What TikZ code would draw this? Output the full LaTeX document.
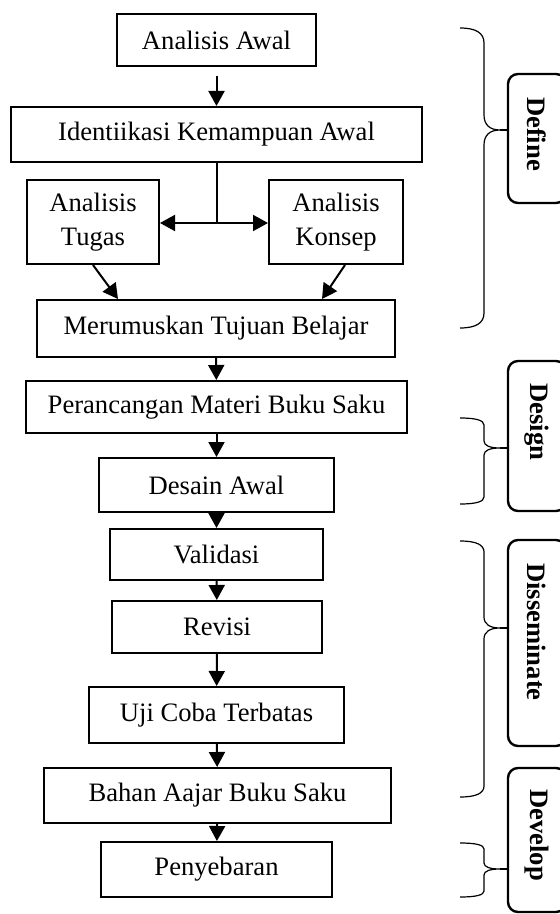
\documentclass[tikz,border=0pt]{standalone}
\usepackage{fontspec}
\setmainfont{Liberation Serif}
\usetikzlibrary{arrows.meta,calc}

\begin{document}
\begin{tikzpicture}[x=0.5pt,y=-0.5pt,
    stage/.style={draw,line width=1pt,inner sep=0pt,align=center,font=\fontsize{13.3}{17}\selectfont},
    flow/.style={line width=1pt,-{Triangle[width=8pt,length=7.5pt]}},
    phase/.style={draw,line width=1.2pt,rounded corners=5pt,minimum width=29pt},
    phasetext/.style={rotate=-90,font=\fontsize{13.3}{16}\selectfont\bfseries},
    brace/.style={line width=0.6pt}]
        \useasboundingbox (0,0) rectangle (560,914);
        \clip (0,0) rectangle (560,914);

        \node[stage,minimum width=99.5pt,minimum height=26pt] (awal) at (216.5,40) {Analisis Awal};
        \node[stage,minimum width=205.5pt,minimum height=27.5pt] (ident) at (216.5,134.5) {Identiikasi Kemampuan Awal};
        \node[stage,minimum width=66pt,minimum height=42pt] (tugas) at (93,222) {Analisis\\Tugas};
        \node[stage,minimum width=67pt,minimum height=42pt] (konsep) at (336,222) {Analisis\\Konsep};
        \node[stage,minimum width=179pt,minimum height=28.5pt] (rumus) at (216,328.5) {Merumuskan Tujuan Belajar};
        \node[stage,minimum width=190.5pt,minimum height=26pt] (rancang) at (216.5,407) {Perancangan Materi Buku Saku};
        \node[stage,minimum width=117.5pt,minimum height=27pt] (desain) at (216.5,485) {Desain Awal};
        \node[stage,minimum width=106.5pt,minimum height=25.5pt] (valid) at (216.5,554.5) {Validasi};
        \node[stage,minimum width=105pt,minimum height=26pt] (revisi) at (217,627) {Revisi};
        \node[stage,minimum width=127.5pt,minimum height=28pt] (uji) at (216.5,715) {Uji Coba Terbatas};
        \node[stage,minimum width=173.5pt,minimum height=27.5pt] (bahan) at (217.5,795.5) {Bahan Aajar Buku Saku};
        \node[stage,minimum width=115.5pt,minimum height=27.5pt] (sebar) at (216.5,869.5) {Penyebaran};

        \draw[flow,shorten <=4.5pt] (awal) -- (ident);
        \coordinate (split) at (216.5,223);
        \draw[line width=1pt] (ident.south) -- (split);
        \draw[flow] (split) -- (tugas.east |- split);
        \draw[flow] (split) -- (konsep.west |- split);
        \draw[flow] (tugas.south) -- (118,0 |- rumus.north);
        \draw[flow] ($(konsep.south)+(9,0)$) -- (322,0 |- rumus.north);
        \draw[flow] (rumus) -- (rancang);
        \draw[flow] (rancang) -- (desain);
        \draw[flow] (desain) -- (valid);
        \draw[flow] (valid) -- (revisi);
        \draw[flow] (revisi) -- (uji);
        \draw[flow] (uji) -- (bahan);
        \draw[flow] (bahan) -- (sebar);

        % phases
        \node[phase,minimum height=64.5pt] (define) at (537,138.5) {};
        \node[phase,minimum height=75pt] (design) at (537,436) {};
        \node[phase,minimum height=103pt] (dissem) at (537,643) {};
        \node[phase,minimum height=72pt] (develop) at (537,840) {};
        \node[phasetext] at (537,134) {Define};
        \node[phasetext] at (537,422) {Design};
        \node[phasetext] at (537,632) {Disseminate};
        \node[phasetext] at (537,835) {Develop};

        \foreach \t/\m/\b/\r/\n in {28/130/328/15/define,418/448/504/7/design,541/628/797/11/dissem,843/869/897/6/develop}{
          \draw[brace] (460,\t) .. controls (476,\t) and (484,\t+\r/3) .. (484,\t+\r)
            -- (484,\m-\r) .. controls (484,\m-\r/3) and (490,\m) .. (500,\m) coordinate (tip)
            .. controls (490,\m) and (484,\m+\r/3) .. (484,\m+\r)
            -- (484,\b-\r) .. controls (484,\b-\r/3) and (476,\b) .. (460,\b);
          \draw[brace] (tip) -- (tip -| \n.west);
        }
      \end{tikzpicture}
\end{document}
